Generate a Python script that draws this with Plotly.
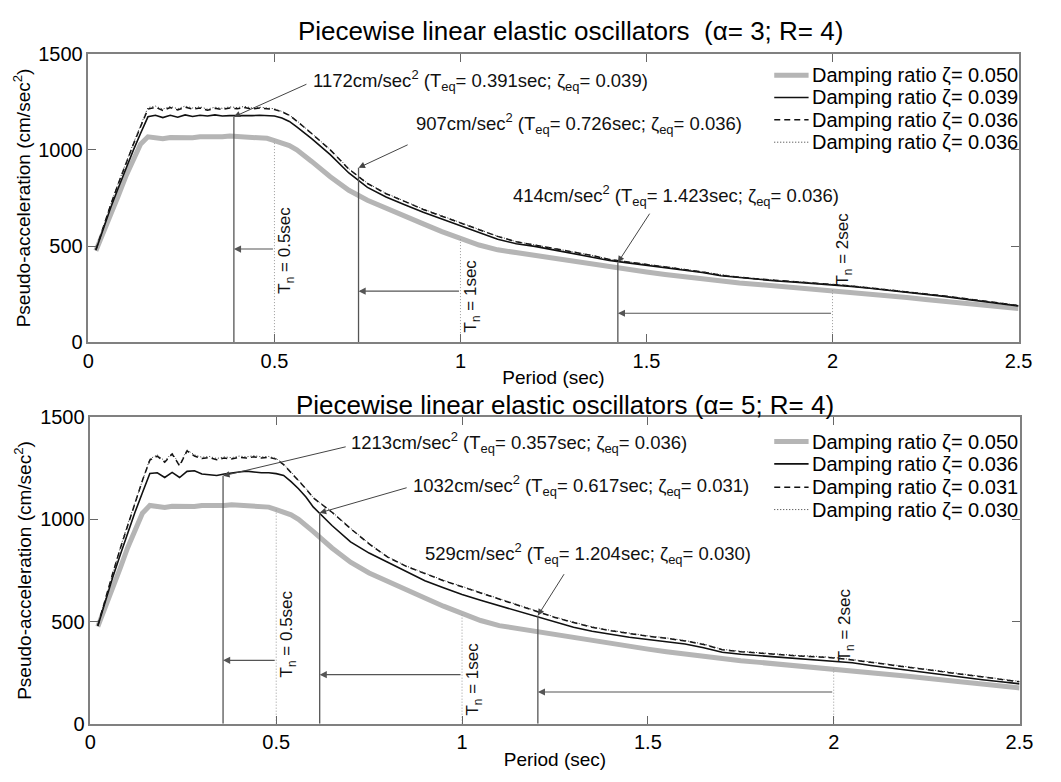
import plotly.graph_objects as go

W, H = 1061, 782


def px(x):
    return x / W


def py(y):
    return 1 - y / H


# ---------------------------------------------------------------- data
periods = [0.02, 0.04, 0.06, 0.08, 0.10, 0.12, 0.14, 0.16, 0.18, 0.20,
           0.22, 0.24, 0.26, 0.28, 0.30, 0.32, 0.34, 0.36, 0.38, 0.40,
           0.42, 0.44, 0.46, 0.48, 0.50, 0.52, 0.54, 0.56, 0.58, 0.60,
           0.65, 0.70, 0.75, 0.80, 0.85, 0.90, 0.95, 1.00, 1.05, 1.10,
           1.15, 1.20, 1.25, 1.30, 1.35, 1.40, 1.45, 1.50, 1.55, 1.60,
           1.65, 1.70, 1.75, 1.80, 1.85, 1.90, 1.95, 2.00, 2.05, 2.10,
           2.15, 2.20, 2.25, 2.30, 2.35, 2.40, 2.45, 2.50]

# linear elastic spectrum, 5% damping (same in both panels)
sa_linear_050 = [475, 565, 660, 760, 860, 950, 1030, 1068, 1062, 1058,
                 1064, 1062, 1066, 1063, 1068, 1066, 1070, 1068, 1072, 1070,
                 1068, 1070, 1066, 1060, 1048, 1036, 1022, 1000, 972, 940,
                 860, 790, 738, 695, 655, 615, 575, 540, 505, 480,
                 465, 455, 440, 425, 405, 390, 378, 365, 352, 340,
                 328, 317, 308, 300, 292, 285, 278, 270, 262, 252,
                 242, 232, 222, 212, 202, 193, 184, 175]

# alpha = 3, R = 4
sa_a3_039 = [478, 590, 700, 800, 900, 995, 1085, 1172, 1180, 1168,
             1180, 1170, 1182, 1174, 1180, 1176, 1182, 1176, 1178, 1178,
             1176, 1178, 1180, 1178, 1176, 1166, 1148, 1120, 1090, 1058,
             975, 880, 805, 755, 715, 675, 640, 605, 570, 535,
             512, 498, 480, 462, 445, 425, 412, 400, 388, 375,
             362, 345, 335, 325, 318, 312, 305, 298, 290, 280,
             270, 260, 250, 238, 225, 212, 200, 188]
sa_a3_036_dash = [480, 600, 715, 822, 928, 1025, 1120, 1212, 1222, 1205,
                  1220, 1208, 1222, 1212, 1218, 1206, 1216, 1210, 1218, 1214,
                  1220, 1212, 1218, 1214, 1210, 1198, 1180, 1150, 1118, 1085,
                  1000, 900, 825, 772, 732, 690, 655, 620, 585, 550,
                  522, 505, 488, 470, 452, 430, 416, 404, 392, 378,
                  365, 348, 337, 328, 321, 314, 307, 300, 292, 282,
                  272, 262, 252, 240, 228, 215, 203, 190]
sa_a3_036_dot = [480, 602, 718, 826, 932, 1030, 1126, 1220, 1228, 1212,
                 1226, 1214, 1228, 1218, 1224, 1212, 1222, 1216, 1224, 1220,
                 1226, 1218, 1222, 1218, 1214, 1200, 1182, 1152, 1120, 1086,
                 1002, 902, 827, 774, 733, 692, 657, 622, 587, 551,
                 523, 506, 489, 471, 453, 431, 417, 405, 393, 379,
                 366, 349, 338, 329, 322, 315, 308, 301, 293, 283,
                 273, 263, 253, 241, 229, 216, 204, 191]

# alpha = 5, R = 4
sa_a5_036 = [478, 600, 715, 825, 935, 1035, 1130, 1225, 1228, 1205,
             1230, 1205, 1235, 1238, 1222, 1218, 1215, 1222, 1228, 1232,
             1236, 1232, 1228, 1228, 1224, 1215, 1185, 1150, 1110, 1060,
             970, 890, 835, 790, 745, 700, 665, 632, 604, 578,
             550, 524, 497, 472, 452, 436, 423, 412, 402, 390,
             372, 350, 340, 333, 327, 321, 315, 308, 298, 285,
             273, 262, 250, 238, 226, 215, 205, 195]
sa_a5_031 = [480, 610, 735, 855, 970, 1080, 1190, 1290, 1310, 1280,
             1320, 1262, 1335, 1310, 1298, 1302, 1292, 1300, 1296, 1304,
             1300, 1306, 1300, 1304, 1295, 1268, 1230, 1190, 1150, 1105,
             1035, 955, 880, 815, 770, 735, 700, 670, 640, 610,
             578, 548, 520, 495, 472, 455, 440, 428, 418, 405,
             388, 362, 352, 345, 338, 332, 328, 322, 312, 300,
             288, 275, 262, 250, 238, 226, 215, 205]
sa_a5_030 = [482, 612, 738, 858, 974, 1084, 1194, 1296, 1316, 1286,
             1326, 1268, 1340, 1316, 1304, 1308, 1298, 1306, 1302, 1310,
             1306, 1312, 1306, 1308, 1298, 1270, 1232, 1192, 1152, 1106,
             1037, 957, 882, 817, 772, 737, 702, 672, 642, 612,
             580, 550, 522, 497, 474, 457, 442, 430, 420, 407,
             390, 364, 354, 347, 340, 334, 330, 324, 314, 302,
             290, 277, 264, 252, 240, 228, 217, 207]

legend_a3 = ["Damping ratio \u03b6= 0.050", "Damping ratio \u03b6= 0.039",
             "Damping ratio \u03b6= 0.036", "Damping ratio \u03b6= 0.036"]
legend_a5 = ["Damping ratio \u03b6= 0.050", "Damping ratio \u03b6= 0.036",
             "Damping ratio \u03b6= 0.031", "Damping ratio \u03b6= 0.030"]

# equivalent linear oscillators
tn_values = [0.5, 1.0, 2.0]
tn_labels = ["0.5sec", "1sec", "2sec"]
a3_teq = [0.391, 0.726, 1.423]
a3_sa = [1172, 907, 414]
a3_zeta = ["0.039", "0.036", "0.036"]
a3_shift_level = [484, 265, 150]
a5_teq = [0.357, 0.617, 1.204]
a5_sa = [1213, 1032, 529]
a5_zeta = ["0.036", "0.031", "0.030"]
a5_shift_level = [310, 240, 155]

x_ticks = [0, 0.5, 1, 1.5, 2, 2.5]
x_ticklabels = ["0", "0.5", "1", "1.5", "2", "2.5"]
y_ticks = [0, 500, 1000, 1500]

# ---------------------------------------------------------------- styles
FONT = "Liberation Sans, Arial, Helvetica, sans-serif"
line_styles = [
    dict(color="#b5b5b5", width=5),
    dict(color="#111111", width=1.6),
    dict(color="#111111", width=1.5, dash="6px,4px"),
    dict(color="#333333", width=1, dash="1px,2px"),
]

fig = go.Figure()
annotations = []
shapes = []


def add_panel(idx, series, names, teq, sa, zeta, shift_level, label_pos,
              tails, tn_shift_y, title, title_xy, legend_rows):
    xa = "x" if idx == 1 else "x2"
    ya = "y" if idx == 1 else "y2"
    for vals, name, st in zip(series, names, line_styles):
        fig.add_trace(go.Scatter(x=periods, y=vals, mode="lines", name=name,
                                 line=st, xaxis=xa, yaxis=ya,
                                 showlegend=False, hoverinfo="skip"))
    # T_n dotted guides up to the 5% spectrum
    for tn in tn_values:
        top = sa_linear_050[periods.index(tn)]
        fig.add_trace(go.Scatter(x=[tn, tn], y=[0, top], mode="lines",
                                 line=dict(color="#9a9a9a", width=1, dash="1px,2px"),
                                 xaxis=xa, yaxis=ya, showlegend=False,
                                 hoverinfo="skip"))
    # T_eq solid guides up to the stated ordinate
    for t, s in zip(teq, sa):
        fig.add_trace(go.Scatter(x=[t, t], y=[0, s], mode="lines",
                                 line=dict(color="#555555", width=1.3),
                                 xaxis=xa, yaxis=ya, showlegend=False,
                                 hoverinfo="skip"))
    # period shift arrows T_n -> T_eq
    for tn, t, lvl in zip(tn_values, teq, shift_level):
        annotations.append(dict(x=t, y=lvl, ax=tn, ay=lvl, xref=xa, yref=ya,
                                axref=xa, ayref=ya, text="", showarrow=True,
                                arrowhead=2, arrowsize=1.3, arrowwidth=1.1,
                                arrowcolor="#555555"))
    # T_n labels
    for tn, lab, yl in zip(tn_values, tn_labels, tn_shift_y):
        annotations.append(dict(x=tn, y=yl, xref=xa, yref=ya,
                                text="T<sub>n</sub> = " + lab, textangle=-90,
                                showarrow=False, xanchor="center",
                                yanchor="middle", xshift=12,
                                font=dict(family=FONT, size=17, color="#111")))
    # ordinate call-outs
    for t, s, z, (lx, ly), (tx, ty) in zip(teq, sa, zeta, label_pos, tails):
        annotations.append(dict(x=t, y=s, ax=tx, ay=ty, xref=xa, yref=ya,
                                axref=xa, ayref=ya, text="", showarrow=True,
                                arrowhead=2, arrowsize=1.3, arrowwidth=1,
                                arrowcolor="#444444"))
        annotations.append(dict(
            x=lx, y=ly, xref=xa, yref=ya, showarrow=False, xanchor="left",
            yanchor="middle",
            text=(f"{s}cm/sec<sup>2</sup> (T<sub>eq</sub>= {t:.3f}sec; "
                  f"\u03b6<sub>eq</sub>= {z})"),
            font=dict(family=FONT, size=18.5, color="#111")))
    # title
    annotations.append(dict(x=px(title_xy[0]), y=py(title_xy[1]), xref="paper",
                            yref="paper", text=title, showarrow=False,
                            xanchor="center", yanchor="middle",
                            font=dict(family=FONT, size=26, color="#000")))
    # legend block
    for i, (name, st) in enumerate(zip(names, line_styles)):
        yy = py(legend_rows[i])
        shapes.append(dict(type="line", xref="paper", yref="paper",
                           x0=px(783), x1=px(818), y0=yy, y1=yy,
                           line=dict(color=st["color"], width=st["width"],
                                     dash=st.get("dash", "solid"))))
        annotations.append(dict(x=px(819), y=yy, xref="paper", yref="paper",
                                text=name, showarrow=False, xanchor="left",
                                yanchor="middle",
                                font=dict(family=FONT, size=20, color="#000")))


add_panel(1, [sa_linear_050, sa_a3_039, sa_a3_036_dash, sa_a3_036_dot],
          legend_a3, a3_teq, a3_sa, a3_zeta, a3_shift_level,
          label_pos=[(0.599, 1359), (0.876, 1137), (1.137, 762)],
          tails=[(0.59, 1345), (0.862, 1030), (1.511, 676)],
          tn_shift_y=[478, 240, 484],
          title="Piecewise linear elastic oscillators\u00a0\u00a0(\u03b1= 3; R= 4)",
          title_xy=(575, 21), legend_rows=[66, 89, 112, 135])

add_panel(2, [sa_linear_050, sa_a5_036, sa_a5_031, sa_a5_030],
          legend_a5, a5_teq, a5_sa, a5_zeta, a5_shift_level,
          label_pos=[(0.697, 1376), (0.863, 1167), (0.895, 834)],
          tails=[(0.691, 1357), (0.855, 1157), (1.277, 739)],
          tn_shift_y=[438, 216, 485],
          title="Piecewise linear elastic oscillators (\u03b1= 5; R= 4)",
          title_xy=(570, 405), legend_rows=[443, 466, 490, 513])

axis_common = dict(showline=True, linecolor="#808080", linewidth=1.5,
                   mirror="ticks", ticks="inside", ticklen=8, tickwidth=1,
                   tickcolor="#666666", showgrid=False, zeroline=False,
                   tickfont=dict(family=FONT, size=20, color="#000"))
xaxis_common = dict(axis_common, range=[0, 2.5], tickvals=x_ticks,
                    ticktext=x_ticklabels,
                    title=dict(text="Period (sec)", standoff=0,
                               font=dict(family=FONT, size=19, color="#000")))
yaxis_common = dict(axis_common, range=[0, 1500], tickvals=y_ticks,
                    title=dict(text="Pseudo-acceleration (cm/sec<sup>2</sup>)",
                               standoff=3,
                               font=dict(family=FONT, size=19, color="#000")))

fig.update_layout(
    width=W, height=H,
    margin=dict(l=0, r=0, t=0, b=0),
    paper_bgcolor="white", plot_bgcolor="white",
    showlegend=False,
    xaxis=dict(xaxis_common, domain=[px(84), px(1032)], anchor="y"),
    yaxis=dict(yaxis_common, domain=[py(340.7), py(44)], anchor="x"),
    xaxis2=dict(xaxis_common, domain=[px(86), px(1033)], anchor="y2"),
    yaxis2=dict(yaxis_common, domain=[py(733.3), py(418)], anchor="x2"),
    annotations=annotations,
    shapes=shapes,
)

fig.write_html("out.html", config={"displayModeBar": False})
